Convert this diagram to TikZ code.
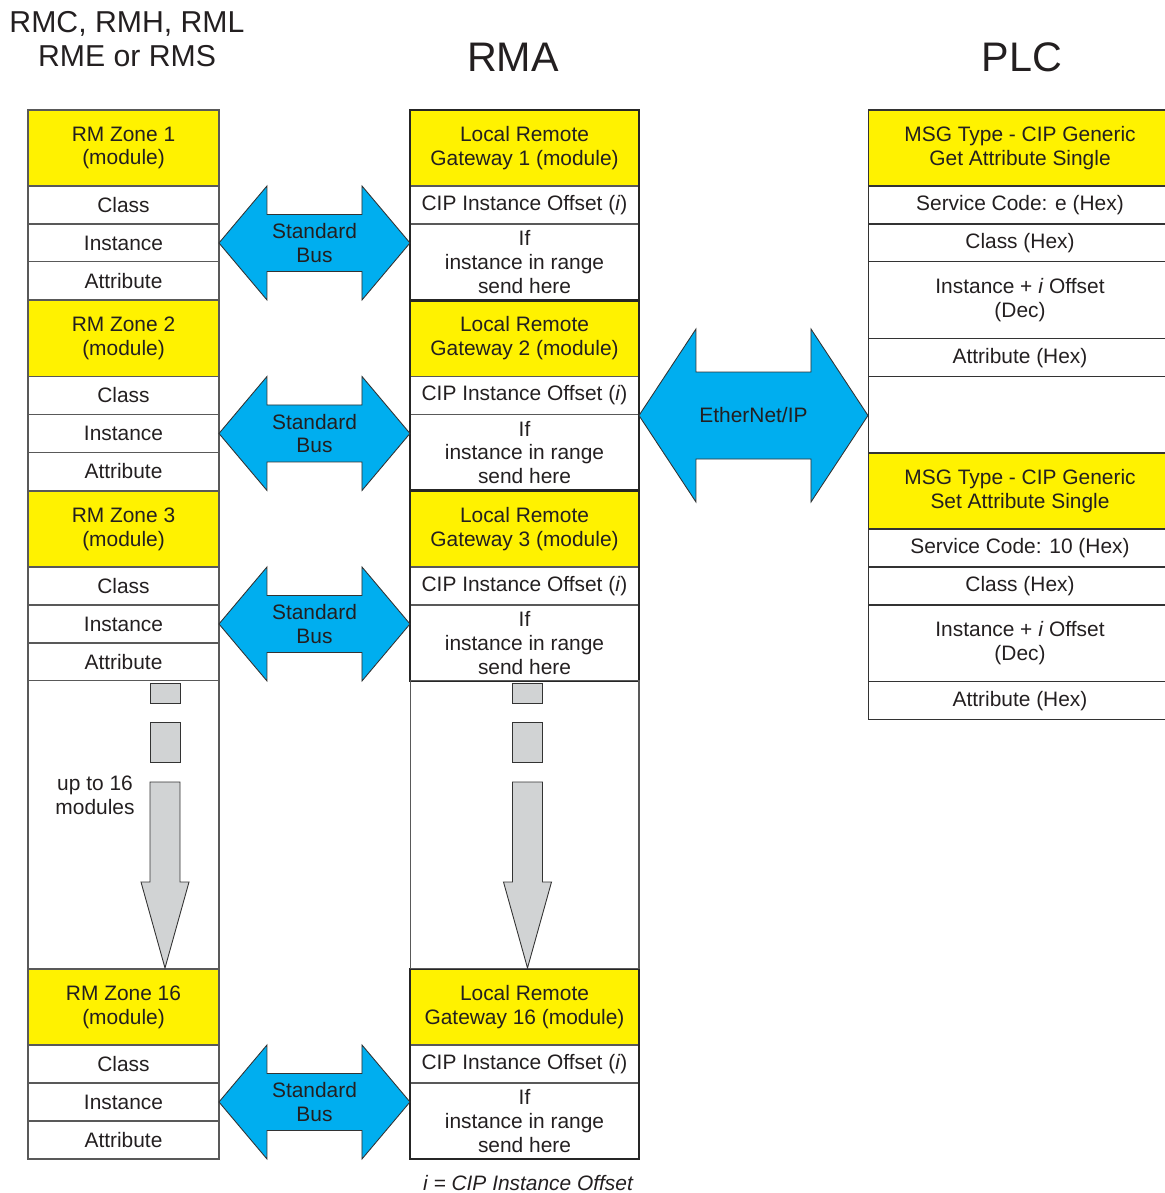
\documentclass[tikz,border=0pt]{standalone}
\usepackage{fontspec}
\setmainfont{Liberation Sans}
\usetikzlibrary{positioning}

\definecolor{zoneyellow}{RGB}{255,242,0}
\definecolor{buscyan}{RGB}{0,174,239}
\definecolor{stepgray}{RGB}{209,211,212}
\definecolor{ink}{RGB}{35,31,32}

\begin{document}
\begin{tikzpicture}[
    x=0.02cm, y=-0.02cm,
    every node/.style={font=\fontsize{11.9}{13.6}\selectfont, text=ink,
                       inner sep=0pt, outer sep=0pt, align=center},
    lcell/.style={draw=black!65, line width=0.6pt,
                  minimum width=3.82cm, minimum height=0.76cm},
    lhead/.style={lcell, fill=zoneyellow, minimum height=1.52cm},
    mcell/.style={lcell, minimum width=4.58cm},
    mhead/.style={mcell, fill=zoneyellow, minimum height=1.52cm},
    pcell/.style={lcell, draw=black!80, minimum width=6.08cm},
    phead/.style={pcell, fill=zoneyellow, minimum height=1.52cm},
    gwframe/.style={draw=black!85, line width=1.4pt},
    bus/.style={draw=black!80, line width=0.5pt, fill=buscyan},
    stepbar/.style={draw=black!80, line width=0.5pt, fill=stepgray},
    title/.style={font=\fontsize{23.5}{28}\selectfont}
  ]
  \useasboundingbox (0,0) rectangle (1165,1193);

  \node[font=\fontsize{17.2}{19.8}\selectfont] (hrm) at (127,39) {RMC, RMH, RML\\RME or RMS};
  \node[title] (hrma) at (513,57) {RMA};
  \node[title] (hplc) at (1022,57) {PLC};

  % one zone and its gateway per row
  \foreach \g/\gy in {1/110, 2/300.5, 3/491, 16/969} {
    \node[lhead, anchor=north] (z\g h) at (123.5,\gy) {RM Zone \g\\(module)};
    \node[lcell, below=0pt of z\g h] (z\g c) {Class};
    \node[lcell, below=0pt of z\g c] (z\g i) {Instance};
    \node[lcell, below=0pt of z\g i] (z\g a) {Attribute};

    \node[mhead, anchor=north] (g\g h) at (524.5,\gy) {Local Remote\\Gateway \g\ (module)};
    \node[mcell, below=0pt of g\g h] (g\g o) {CIP Instance Offset (\textit{i})};
    \node[mcell, minimum height=1.52cm, below=0pt of g\g o] (g\g r) {If\\instance in range\\send here};
    \draw[gwframe] (g\g h.north west) rectangle (g\g r.south east);

    % standard bus
    \draw[bus] (z\g i.east) -- ++(48,-57) -- ++(0,28.5) -- ++(95,0) -- ++(0,-28.5)
      -- ++(48,57) -- ++(-48,57) -- ++(0,-28.5) -- ++(-95,0) -- ++(0,28.5) -- cycle;
    \path (z\g i.east) -- (z\g i.east -| g\g h.west) node[midway] (bus\g) {Standard\\Bus};
  }

  \node[lcell, minimum height=5.76cm, below=0pt of z3a] (lgap) {};
  \node[mcell, minimum height=5.76cm, below=0pt of g3r] (mgap) {};
  \node (upto) at (95,795) {up to 16\\modules};

  \foreach \cx in {165, 527.5} {
    \draw[stepbar] (\cx-15,683) rectangle (\cx+15,703);
    \draw[stepbar] (\cx-15,722) rectangle (\cx+15,762);
    \draw[stepbar] (\cx-15,782) -- (\cx-15,882) -- (\cx-24,882) -- (\cx,968)
      -- (\cx+24,882) -- (\cx+15,882) -- (\cx+15,782) -- cycle;
  }

  % PLC messages
  \foreach \p/\gy/\code/\op in {1/110/e/Get, 2/453/10/Set} {
    \node[phead, anchor=north] (p\p h) at (1020,\gy) {MSG Type - CIP Generic\\\op\ Attribute Single};
    \node[pcell, below=0pt of p\p h] (p\p s) {Service Code: \code\ (Hex)};
    \node[pcell, below=0pt of p\p s] (p\p c) {Class (Hex)};
    \node[pcell, minimum height=1.54cm, below=0pt of p\p c] (p\p i) {Instance + \textit{i} Offset\\(Dec)};
    \node[pcell, below=0pt of p\p i] (p\p a) {Attribute (Hex)};
  }
  \node[pcell, minimum height=1.52cm, below=0pt of p1a] (pgap) {};

  % EtherNet/IP
  \draw[bus] (g2o.east |- 0,415.5) -- ++(57,-86.5) -- ++(0,43) -- ++(115,0) -- ++(0,-43)
    -- ++(57,86.5) -- ++(-57,86.5) -- ++(0,-43) -- ++(-115,0) -- ++(0,43) -- cycle;
  \node (eip) at (753.5,415.5) {EtherNet/IP};

  \node[font=\fontsize{11.9}{13.6}\selectfont\itshape] (inote) at (528,1183) {i = CIP Instance Offset};
\end{tikzpicture}
\end{document}
